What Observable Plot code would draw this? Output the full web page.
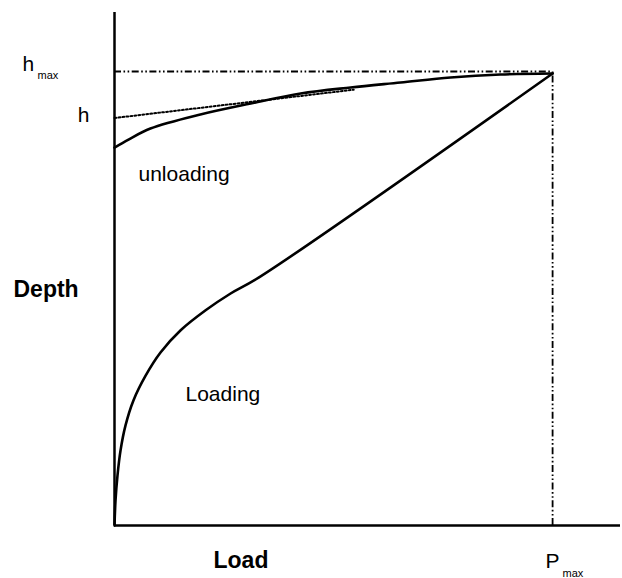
<!DOCTYPE html>
<html>
<head>
<meta charset="utf-8">
<script src="https://cdn.jsdelivr.net/npm/d3@7"></script>
<script src="https://cdn.jsdelivr.net/npm/@observablehq/plot@0.6"></script>
<style>
  html, body { margin: 0; padding: 0; background: #fff; }
  svg { display: block; }
</style>
</head>
<body>
<div id="chart"></div>
<script>
// Load / depth on normalised axes: P = 1 at Pmax, depth = 1 at hmax
const pMax = 1;
const hMax = 1;

// Loading branch
const loadingLoad  = [0, 0.0023, 0.0068, 0.0137, 0.025, 0.043, 0.071, 0.105, 0.151, 0.208, 0.265, 0.329, 1.0];
const loadingDepth = [0, 0.055, 0.110, 0.165, 0.220, 0.275, 0.330, 0.381, 0.430, 0.474, 0.511, 0.546, 0.9956];

// Unloading branch
const unloadingLoad  = [1.0, 0.881, 0.767, 0.653, 0.539, 0.425, 0.311, 0.196, 0.082, 0.032, 0];
const unloadingDepth = [0.9956, 0.9934, 0.9868, 0.9758, 0.9648, 0.9515, 0.9295, 0.9053, 0.8744, 0.8502, 0.8326];

// Tangent to the top of the unloading curve, extrapolated to zero load (h)
const tangentLoad  = [0, 0.546];
const tangentDepth = [0.8976, 0.960];

// Axis extents
const xMax = 1.155;
const yMax = 1.13;

const loading   = loadingLoad.map((p, i) => ({p, d: loadingDepth[i]}));
const unloading = unloadingLoad.map((p, i) => ({p, d: unloadingDepth[i]}));
const tangent   = tangentLoad.map((p, i) => ({p, d: tangentDepth[i]}));

// Annotations (position in load/depth units)
const plainLabels = [
  {text: "unloading", p: 0.0548, d: 0.758},
  {text: "Loading",   p: 0.1621, d: 0.2753},
  {text: "h",         p: -0.21,  d: 1.0022},
  {text: "P",         p: 0.984,  d: -0.0947}
];
const boldLabels = [
  {text: "Depth", p: -0.2306, d: 0.5044},
  {text: "Load",  p: 0.226,   d: -0.0947}
];
const subscripts = [
  {text: "max", p: -0.1758, d: 0.9846},
  {text: "max", p: 1.0228,  d: -0.1145}
];
const hLabel = [{text: "h", p: tangentLoad[0], d: 0.8877}];

const dashDot = "7,2.5,1.6,2.5,1.6,2.5";

const chart = Plot.plot({
  width: 622,
  height: 578,
  marginLeft: 114,
  marginRight: 2,
  marginTop: 12,
  marginBottom: 53,
  style: {fontFamily: "'Liberation Sans', Arial, sans-serif", background: "#fff"},
  x: {domain: [0, xMax], axis: null},
  y: {domain: [0, yMax], axis: null},
  marks: [
    // reference lines at Pmax and hmax
    Plot.ruleY([hMax], {x1: 0, x2: pMax, stroke: "#000", strokeWidth: 1.8, strokeDasharray: dashDot}),
    Plot.ruleX([pMax], {y1: 0, y2: hMax, stroke: "#000", strokeWidth: 1.8, strokeDasharray: dashDot}),
    // tangent line
    Plot.line(tangent, {x: "p", y: "d", stroke: "#000", strokeWidth: 2, strokeDasharray: "1.8,2.2"}),
    // curves
    Plot.line(loading, {x: "p", y: "d", curve: "catmull-rom", stroke: "#000", strokeWidth: 2.6}),
    Plot.line(unloading, {x: "p", y: "d", curve: "catmull-rom", stroke: "#000", strokeWidth: 2.6}),
    // axes
    Plot.ruleX([0], {y1: 0, y2: yMax, stroke: "#000", strokeWidth: 2.5}),
    Plot.ruleY([0], {x1: 0, x2: xMax, stroke: "#000", strokeWidth: 2.5}),
    // text
    Plot.text(plainLabels, {x: "p", y: "d", text: "text", textAnchor: "start", lineAnchor: "bottom", fontSize: 21, fill: "#000"}),
    Plot.text(hLabel, {x: "p", y: "d", text: "text", textAnchor: "end", lineAnchor: "bottom", dx: -25, fontSize: 21, fill: "#000"}),
    Plot.text(boldLabels, {x: "p", y: "d", text: "text", textAnchor: "start", lineAnchor: "bottom", fontSize: 23, fontWeight: "bold", fill: "#000"}),
    Plot.text(subscripts, {x: "p", y: "d", text: "text", textAnchor: "start", lineAnchor: "bottom", fontSize: 11, fill: "#000"})
  ]
});

document.getElementById("chart").appendChild(chart);
</script>
</body>
</html>
